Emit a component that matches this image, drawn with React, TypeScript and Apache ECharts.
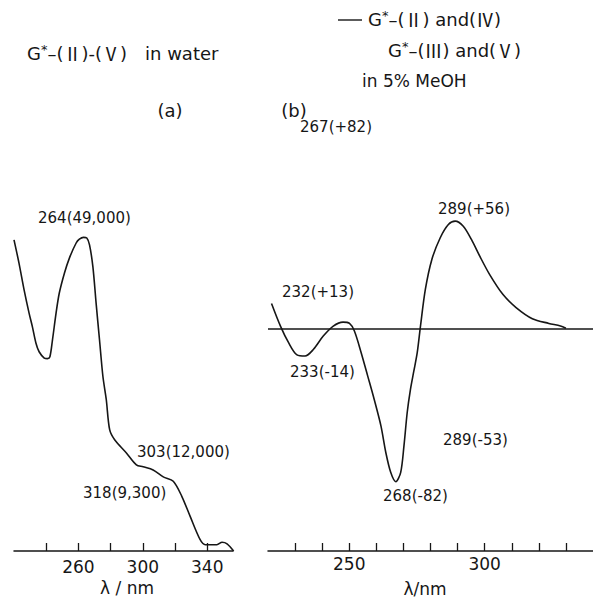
import React, { useEffect, useRef } from "react";
import * as echarts from "echarts";

// Panel (a): UV absorption in water
const uvWavelength = [220, 223.1, 226.3, 229.4, 231.4, 233.6, 235.6, 238.8, 240.8, 242.3, 243.9, 246.1, 248.1, 251.3, 254.4, 258.6, 260.6, 263.1, 265.2, 266.9, 269, 271, 273.1, 275.2, 277.3, 279.4, 282.5, 289.8, 296, 300.2, 306.4, 312.7, 318.9, 324.2, 329.4, 335.6, 338.8, 346, 349.2, 352.3, 356.4];
const uvEpsilon = [48500, 44800, 40500, 36800, 34700, 32100, 30700, 29700, 29600, 29900, 32600, 36800, 40000, 43200, 45600, 48000, 48600, 48900, 48800, 47700, 44200, 38400, 32600, 26800, 23100, 18300, 16700, 14600, 12700, 12400, 11900, 10800, 10100, 7700, 4500, 800, 0, 0, 400, 150, -1000];

// Panel (b): CD in 5% MeOH
const cdWavelength = [221.3, 224.6, 227.6, 230.7, 233.7, 236.8, 240.4, 244.1, 247.7, 250.1, 251.9, 254.4, 256.8, 259.2, 261.7, 263.5, 265.3, 267.2, 269, 270.2, 271.4, 272.6, 273.8, 275.1, 276.3, 278.1, 280.5, 283.6, 286.6, 289.1, 292.1, 295.1, 298.2, 301.8, 306.7, 311.6, 317.6, 323.7, 328, 330];
const cdDeltaEps = [13.2, 1.2, -7.6, -14.1, -14.7, -11.1, -4.1, 1.2, 3.3, 2.6, -1.4, -12.9, -25.2, -37.6, -51.7, -65.8, -76.3, -81.3, -76.3, -62.3, -44.6, -32.3, -23, -12.9, 1.2, 20.6, 36.5, 48, 55, 56.8, 54.1, 47.1, 38.2, 28.6, 18, 11, 5.1, 2.6, 1.2, 0];

const uvTickValues = [240, 260, 280, 300, 320, 340];
const uvTickLabels = [260, 300, 340];
const cdTickValues = [230, 240, 250, 260, 270, 280, 290, 300, 310, 320, 330];
const cdTickLabels = [250, 300];

const uvAxisName = "λ / nm";
const cdAxisName = "λ/nm";

const uvAnnotations = ["264(49,000)", "303(12,000)", "318(9,300)"];
const cdAnnotations = ["232(+13)", "233(-14)", "289(+56)", "268(-82)", "289(-53)", "267(+82)"];

const INK = "#161616";
const FONT = "DejaVu Sans";
const RN_FONT = "Noto Sans CJK JP";

function txt(text: string, x: number, y: number, size: number, align: string = "left") {
  return {
    type: "text",
    x,
    y,
    silent: true,
    style: {
      text,
      fontSize: size,
      fontFamily: FONT,
      fill: INK,
      align,
      verticalAlign: "middle",
      lineHeight: 20,
      rich: {
        s: { fontSize: 13, fontFamily: FONT, fill: INK, verticalAlign: "top", lineHeight: 20 },
        r: { fontSize: size, fontFamily: RN_FONT, fill: INK, lineHeight: 20 },
      },
    },
  };
}

export default function App() {
  const ref = useRef<HTMLDivElement>(null);
  useEffect(() => {
    document.body.style.margin = "0";
    if (!ref.current) return;
    const chart = echarts.init(ref.current, null, { renderer: "svg" });
    const axisCommon = {
      type: "value",
      axisLine: { show: true, onZero: false, lineStyle: { color: INK, width: 1.5 } },
      splitLine: { show: false },
    };
    const tickStyle = { show: true, inside: true, length: 8, lineStyle: { color: INK, width: 1.3 } };
    const labelStyle = { fontSize: 17, fontFamily: FONT, color: INK };
    chart.setOption({
      animation: false,
      backgroundColor: "#ffffff",
      grid: [
        { left: 14, right: 360, top: 199, bottom: 50, containLabel: false, outerBoundsMode: "none" },
        { left: 268, right: 0, top: 200, bottom: 50, containLabel: false, outerBoundsMode: "none" },
      ],
      xAxis: [
        {
          ...axisCommon,
          gridIndex: 0,
          min: 220,
          max: 356,
          interval: 20,
          axisTick: { ...tickStyle, customValues: uvTickValues },
          axisLabel: { ...labelStyle, margin: 7, customValues: uvTickLabels },
        },
        {
          ...axisCommon,
          gridIndex: 1,
          min: 220,
          max: 340,
          interval: 10,
          axisTick: { ...tickStyle, customValues: cdTickValues },
          axisLabel: { ...labelStyle, margin: 4, customValues: cdTickLabels },
        },
      ],
      yAxis: [
        { type: "value", gridIndex: 0, min: -1000, max: 55000, show: false, splitLine: { show: false } },
        { type: "value", gridIndex: 1, min: -118, max: 68, show: false, splitLine: { show: false } },
      ],
      series: [
        {
          type: "line",
          xAxisIndex: 0,
          yAxisIndex: 0,
          data: uvWavelength.map((w, i) => [w, uvEpsilon[i]]),
          showSymbol: false,
          smooth: 0.3,
          lineStyle: { color: INK, width: 1.6 },
          silent: true,
        },
        {
          type: "line",
          xAxisIndex: 1,
          yAxisIndex: 1,
          data: cdWavelength.map((w, i) => [w, cdDeltaEps[i]]),
          showSymbol: false,
          smooth: 0.3,
          lineStyle: { color: INK, width: 1.6 },
          silent: true,
          markLine: {
            silent: true,
            symbol: "none",
            label: { show: false },
            lineStyle: { color: INK, width: 1.5, type: "solid" },
            data: [{ yAxis: 0 }],
          },
        },
      ],
      graphic: [
        // titles
        txt("G{s|*}–({r|Ⅱ})-({r|Ⅴ})", 27, 53, 18),
        txt("in water", 145, 53, 18),
        { type: "line", silent: true, shape: { x1: 338, y1: 20, x2: 362, y2: 20 }, style: { stroke: INK, lineWidth: 1.4 } },
        txt("G{s|*}–({r|Ⅱ}) and({r|Ⅳ})", 368, 19, 18),
        txt("G{s|*}–({r|Ⅲ}) and({r|Ⅴ})", 388, 50, 18),
        txt("in 5% MeOH", 362, 81, 17),
        txt("(a)", 170, 110, 18, "center"),
        txt("(b)", 294, 110, 18, "center"),
        // axis names
        txt(uvAxisName, 127, 588, 17, "center"),
        txt(cdAxisName, 425, 589, 17, "center"),
        // panel (a) annotations
        txt(uvAnnotations[0], 38, 218, 15),
        txt(uvAnnotations[1], 137, 452, 15),
        txt(uvAnnotations[2], 83, 493, 15),
        // panel (b) annotations
        txt(cdAnnotations[0], 282, 292, 15),
        txt(cdAnnotations[1], 290, 372, 15),
        txt(cdAnnotations[2], 438, 209, 15),
        txt(cdAnnotations[3], 383, 496, 15),
        txt(cdAnnotations[4], 443, 440, 15),
        txt(cdAnnotations[5], 300, 127, 15),
      ],
    });
    return () => chart.dispose();
  }, []);
  return <div ref={ref} style={{ width: 593, height: 601 }} />;
}
